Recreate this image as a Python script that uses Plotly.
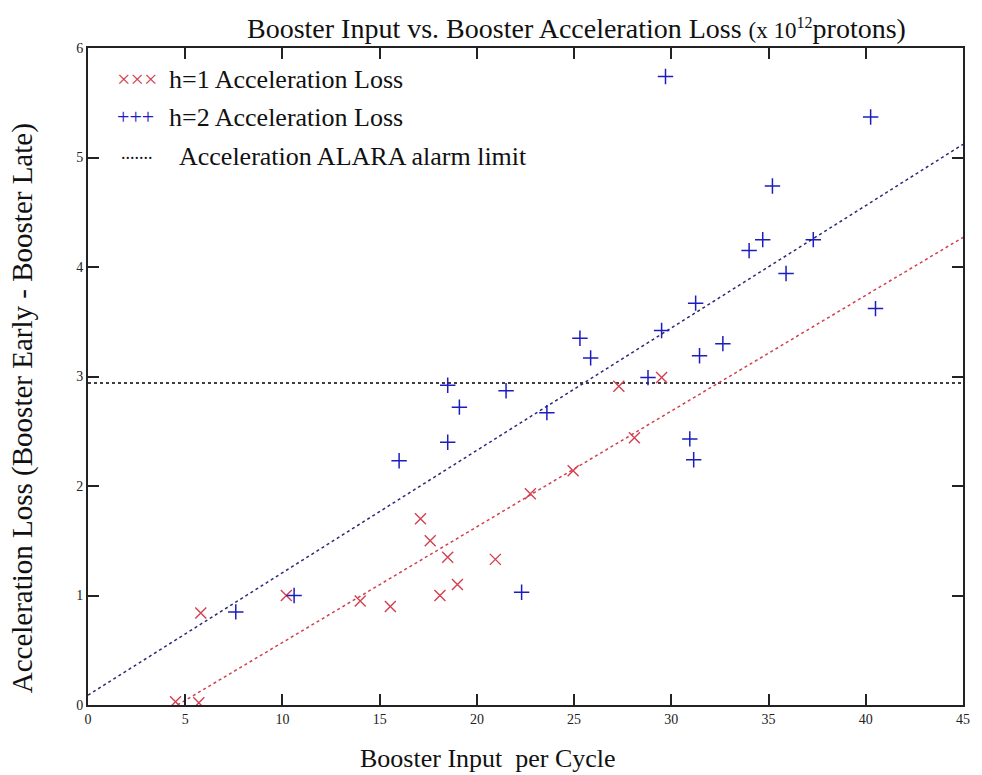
import plotly.graph_objects as go

# h=1 (red x) acceleration loss data
h1_input = [4.5, 5.7, 5.8, 10.2, 14.0, 15.55, 17.1, 17.6, 18.1, 18.5, 19.0, 20.95, 22.75, 24.95, 27.3, 28.1, 29.5]
h1_loss = [0.03, 0.02, 0.84, 1.00, 0.95, 0.90, 1.70, 1.50, 1.00, 1.35, 1.10, 1.33, 1.93, 2.14, 2.91, 2.44, 2.99]

# h=2 (blue +) acceleration loss data
h2_input = [7.6, 10.6, 16.0, 18.5, 18.5, 19.1, 21.5, 22.3, 23.6, 25.3, 25.85, 28.8, 29.5, 29.7,
            30.95, 31.15, 31.25, 31.45, 32.65, 34.0, 34.7, 35.2, 35.9, 37.3, 40.25, 40.5]
h2_loss = [0.85, 1.00, 2.23, 2.92, 2.40, 2.72, 2.87, 1.03, 2.67, 3.35, 3.17, 2.99, 3.42, 5.74,
           2.43, 2.24, 3.67, 3.19, 3.30, 4.15, 4.25, 4.74, 3.94, 4.25, 5.37, 3.62]

# linear fit lines (endpoints)
h1_fit_x = [4.6, 45.0]
h1_fit_y = [0.0, 4.27]
h2_fit_x = [0.0, 45.0]
h2_fit_y = [0.09, 5.12]

# ALARA alarm limit
alarm_x = [0.0, 45.0]
alarm_y = [2.94, 2.94]

x_ticks = [0, 5, 10, 15, 20, 25, 30, 35, 40, 45]
y_ticks = [0, 1, 2, 3, 4, 5, 6]

RED = "#d2404f"
BLUE = "#1c1cc0"
NAVY = "#2b2b78"
SERIF = "Liberation Serif"

fig = go.Figure()

fig.add_trace(go.Scatter(x=alarm_x, y=alarm_y, mode="lines",
                         line=dict(color="black", width=1.6, dash="dot"), showlegend=False))
fig.add_trace(go.Scatter(x=h2_fit_x, y=h2_fit_y, mode="lines",
                         line=dict(color=NAVY, width=1.5, dash="dot"), showlegend=False))
fig.add_trace(go.Scatter(x=h1_fit_x, y=h1_fit_y, mode="lines",
                         line=dict(color=RED, width=1.5, dash="dot"), showlegend=False))
fig.add_trace(go.Scatter(x=h1_input, y=h1_loss, mode="markers",
                         marker=dict(symbol="x-thin", size=11, line=dict(color=RED, width=1.4)),
                         showlegend=False))
fig.add_trace(go.Scatter(x=h2_input, y=h2_loss, mode="markers",
                         marker=dict(symbol="cross-thin", size=11, line=dict(color=BLUE, width=1.5)),
                         showlegend=False))

L, R, T, B = 88, 15, 48, 70
W, H = 982, 775
pw, ph = W - L - R, H - T - B


def px(x):
    return (x - L) / pw


def py(y):
    return (H - B - y) / ph


annotations = [
    # legend
    dict(x=px(116), y=py(79), text="×××", font=dict(color=RED, size=24, family=SERIF), xanchor="left"),
    dict(x=px(168), y=py(79), text="h=1 Acceleration Loss", font=dict(color="#111", size=26, family=SERIF), xanchor="left"),
    dict(x=px(116), y=py(116), text="+++", font=dict(color=BLUE, size=22, family=SERIF), xanchor="left"),
    dict(x=px(168), y=py(117), text="h=2 Acceleration Loss", font=dict(color="#111", size=26, family=SERIF), xanchor="left"),
    dict(x=px(120), y=py(153), text=".......", font=dict(color="#111", size=18, family=SERIF), xanchor="left"),
    dict(x=px(178), y=py(156), text="Acceleration ALARA alarm limit", font=dict(color="#111", size=26, family=SERIF), xanchor="left"),
    # axis titles
    dict(x=px(490), y=py(758), text="Booster Input  per Cycle", font=dict(color="#111", size=26, family=SERIF), xanchor="center"),
    dict(x=px(22), y=py(408), text="Acceleration Loss (Booster Early - Booster Late)", textangle=-90,
         font=dict(color="#111", size=29, family=SERIF), xanchor="center"),
    # title
    dict(x=px(579), y=py(28), text="Booster Input vs. Booster Acceleration Loss <span style='font-size:23px'>(x 10<sup>12</sup></span>protons)",
         font=dict(color="#111", size=28, family=SERIF), xanchor="center"),
]
for a in annotations:
    a.update(xref="paper", yref="paper", showarrow=False, yanchor="middle", borderpad=0)

fig.update_layout(
    width=W, height=H,
    margin=dict(l=L, r=R, t=T, b=B),
    paper_bgcolor="white", plot_bgcolor="white",
    annotations=annotations,
    showlegend=False,
)
fig.update_xaxes(range=[0, 45], tickvals=x_ticks, ticktext=[str(v) for v in x_ticks],
                 ticks="inside", ticklen=11, tickwidth=1.5, tickcolor="#222",
                 showline=True, linecolor="#222", linewidth=1.8, mirror="ticks",
                 showgrid=False, zeroline=False,
                 tickfont=dict(family=SERIF, size=14, color="#222"))
fig.update_yaxes(range=[0, 6], tickvals=y_ticks, ticktext=[str(v) for v in y_ticks],
                 ticks="inside", ticklen=11, tickwidth=1.5, tickcolor="#222",
                 showline=True, linecolor="#222", linewidth=1.8, mirror="ticks",
                 showgrid=False, zeroline=False,
                 tickfont=dict(family=SERIF, size=14, color="#222"))

fig.write_html("out.html")
